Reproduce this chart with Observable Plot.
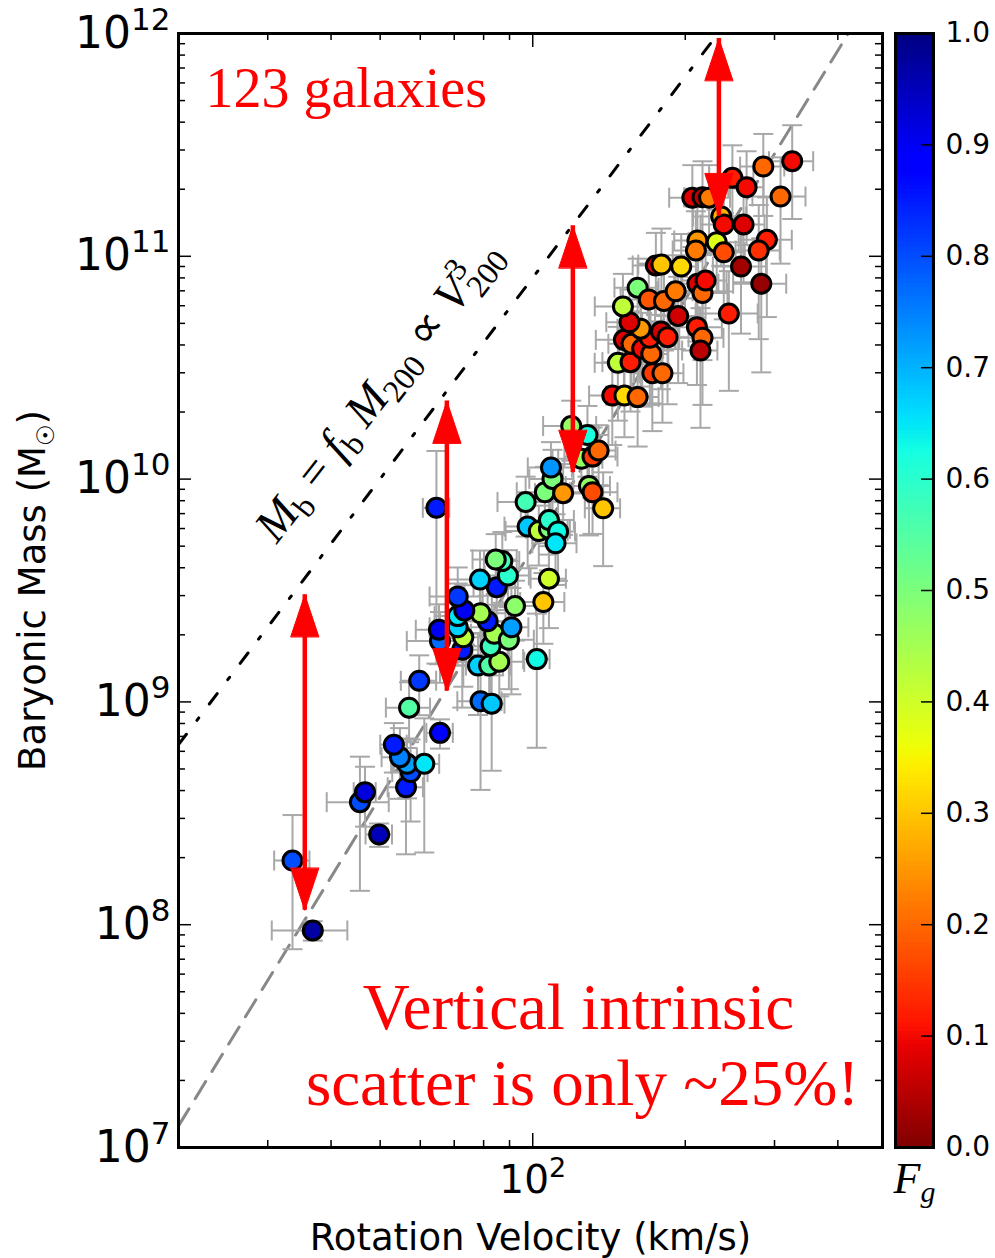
<!DOCTYPE html>
<html><head><meta charset="utf-8">
<script src="https://cdn.jsdelivr.net/npm/d3@7"></script>
<script src="https://cdn.jsdelivr.net/npm/@observablehq/plot@0.6"></script>
<style>
body{margin:0;background:#fff;}
#wrap{position:relative;width:995px;height:1258px;overflow:hidden;background:#fff;}
#main{position:absolute;left:0;top:0;}
#cbar{position:absolute;left:885px;top:0;}
</style></head><body><div id="wrap"><div id="main"></div><div id="cbar"></div></div>
<script>
// ---------- data ----------
// log10 of rotation velocity (km/s)
const logV = [1.566,1.526,1.697,1.659,1.669,1.750,1.759,1.752,1.738,1.786,1.726,1.817,1.756,1.776,1.897,1.919,2.008,
1.892,1.914,1.934,1.861,1.817,1.815,1.863,1.852,1.917,1.924,1.953,1.958,1.911,1.897,1.852,1.865,1.852,1.965,2.021,2.032,
1.929,1.896,1.951,1.940,1.927,1.810,1.986,1.990,2.012,2.032,2.032,2.050,2.045,2.024,2.039,2.036,2.060,2.111,2.118,2.139,
2.096,2.118,2.130,2.108,2.076,2.157,2.181,2.207,2.168,2.193,2.236,2.256,2.180,2.195,2.216,2.234,2.231,2.213,2.191,2.253,
2.266,2.178,2.207,2.229,2.259,2.282,2.287,2.324,2.335,2.331,2.387,2.325,2.335,2.243,2.254,2.293,2.411,2.451,2.325,2.322,
2.363,2.377,2.416,2.372,2.377,2.462,2.446,2.315,2.335,2.348,2.489,2.394,2.422,2.455,2.512,2.341];
// log10 of baryonic mass (Msun)
const logMb = [7.974,8.288,8.405,8.550,8.595,8.617,8.685,8.722,8.752,8.722,8.808,8.861,8.974,9.095,9.003,8.992,9.192,
9.163,9.163,9.180,9.234,9.273,9.324,9.290,9.335,9.250,9.306,9.279,9.335,9.362,9.398,9.385,9.410,9.473,9.430,9.448,9.553,
9.515,9.549,9.567,9.632,9.639,9.871,9.897,9.787,9.767,9.777,9.816,9.765,9.712,9.941,10.001,10.052,9.937,9.969,9.941,9.869,
10.091,10.101,10.128,10.198,10.238,10.375,10.375,10.368,10.522,10.525,10.475,10.475,10.625,10.607,10.585,10.562,10.634,10.675,10.704,10.663,
10.637,10.775,10.859,10.806,10.799,10.843,10.732,10.682,10.634,10.577,10.743,10.877,10.835,10.959,10.963,10.954,10.954,10.877,11.071,11.026,
11.063,11.018,11.143,11.179,11.143,11.074,11.026,11.263,11.265,11.263,11.268,11.352,11.310,11.403,11.427,10.891];
// gas fraction F_g
const Fg = [0.97,0.80,0.95,0.80,0.92,0.85,0.80,0.72,0.75,0.65,0.85,0.88,0.55,0.82,0.77,0.68,0.63,
0.67,0.55,0.45,0.85,0.77,0.90,0.42,0.67,0.58,0.45,0.50,0.72,0.85,0.45,0.65,0.90,0.82,0.48,0.30,0.40,
0.85,0.67,0.60,0.57,0.50,0.85,0.57,0.68,0.42,0.50,0.60,0.63,0.65,0.50,0.50,0.73,0.25,0.47,0.17,0.30,
0.47,0.15,0.20,0.62,0.47,0.10,0.32,0.20,0.42,0.12,0.15,0.20,0.08,0.20,0.10,0.20,0.12,0.25,0.08,0.07,
0.12,0.42,0.50,0.18,0.20,0.22,0.07,0.12,0.20,0.05,0.12,0.08,0.20,0.08,0.30,0.32,0.03,0.02,0.25,0.22,
0.38,0.17,0.08,0.28,0.10,0.12,0.14,0.08,0.05,0.22,0.20,0.12,0.10,0.20,0.10,0.10];
// fractional 1-sigma errors
const errV = [.17,.08,.06,.14,.05,.08,.08,.07,.08,.07,.06,.06,.10,.08,.10,.06,.06,
.12,.10,.12,.10,.14,.10,.10,.12,.08,.10,.12,.08,.10,.12,.10,.08,.12,.10,.10,.08,
.10,.14,.10,.08,.10,.06,.12,.10,.14,.10,.12,.08,.10,.12,.10,.10,.12,.10,.12,.08,
.10,.12,.08,.10,.12,.10,.08,.10,.10,.12,.08,.10,.12,.10,.10,.08,.12,.10,.10,.08,
.10,.12,.10,.12,.10,.08,.10,.12,.10,.08,.14,.10,.12,.10,.10,.08,.12,.12,.10,.10,
.12,.10,.10,.12,.10,.12,.10,.10,.08,.10,.12,.10,.08,.10,.10,.10];
const errM = [.10,.60,.12,.60,.30,.50,.40,.30,.35,.60,.25,.15,.30,.30,.60,.50,.60,
.40,.35,.30,.45,.35,.30,.40,.30,.45,.35,.40,.50,.30,.35,.40,.30,.35,.30,.35,.40,
.30,.35,.30,.35,.30,.80,.30,.35,.30,.35,.30,.40,.35,.30,.35,.30,.35,.40,.35,.45,
.30,.35,.30,.35,.30,.40,.35,.40,.45,.40,.45,.40,.45,.40,.45,.40,.50,.45,.40,.45,
.50,.40,.35,.45,.40,.45,.50,.45,.50,.55,.55,.45,.50,.40,.45,.40,.50,.60,.45,.50,
.40,.50,.45,.40,.50,.55,.60,.40,.45,.40,.50,.40,.45,.40,.45,.45];

// reference relations (end points)
const dashedV = [20, 490];           // observed relation, M ~ V^3.7
const dashedM = [1.25e7, 1.78e12];
const dottedV = [20, 490];           // Mb = fb M200 ~ V^3
const dottedM = [6.43e8, 9.4e12];

// red arrows
const arrowV = [35.5, 67.7, 120, 233];
const arrowTop = [3.03e9, 2.24e10, 1.37e11, 9.5e11];
const arrowBot = [1.16e8, 1.12e9, 1.07e10, 1.52e11];

// ticks
const xMinor = [30, 40, 50, 60, 70, 80, 90, 200, 300, 400];
const xMajor = [100];
const xLabels = [100];
const yDecades = [1e7, 1e8, 1e9, 1e10, 1e11];
const yMult = [2, 3, 4, 5, 6, 7, 8, 9];
const yMajor = [1e8, 1e9, 1e10, 1e11];
const yLabels = [1e7, 1e8, 1e9, 1e10, 1e11, 1e12];
const cbTicks = [0, 0.1, 0.2, 0.3, 0.4, 0.5, 0.6, 0.7, 0.8, 0.9, 1.0];
const cbInner = [0.1, 0.2, 0.3, 0.4, 0.5, 0.6, 0.7, 0.8, 0.9];

// ---------- jet colormap (Fg = 1 -> dark blue, Fg = 0 -> dark red) ----------
const jetR = [[0,0],[0.35,0],[0.66,1],[0.89,1],[1,0.5]];
const jetG = [[0,0],[0.125,0],[0.375,1],[0.64,1],[0.91,0],[1,0]];
const jetB = [[0,0.5],[0.11,1],[0.34,1],[0.65,0],[1,0]];
function pw(st, t){ for(let i=1;i<st.length;i++){ if(t<=st[i][0]){ const [a,va]=st[i-1],[b,vb]=st[i]; return va+(vb-va)*(t-a)/(b-a);} } return st[st.length-1][1]; }
function jet(t){ return d3.rgb(255*pw(jetR,t),255*pw(jetG,t),255*pw(jetB,t)).formatHex(); }
const jetBreaks = [0,0.11,0.125,0.34,0.35,0.375,0.64,0.65,0.66,0.89,0.91,1];
const colorOpts = {type: "linear", domain: jetBreaks.map(t => 1 - t).reverse(), range: jetBreaks.map(jet).reverse(), interpolate: "rgb", clamp: true};

// ---------- tables ----------
const rows = logV.map((lv, i) => ({V: 10 ** lv, M: 10 ** logMb[i], Fg: Fg[i], eV: errV[i], eM: errM[i]}));
const dashed = dashedV.map((v, i) => ({V: v, M: dashedM[i]}));
const dotted = dottedV.map((v, i) => ({V: v, M: dottedM[i]}));
const arrows = arrowV.map((v, i) => ({V: v, top: arrowTop[i], bot: arrowBot[i]}));
const yMinor = yDecades.flatMap(d => yMult.map(m => m * d));

const W = 704, H = 1114;
const vbar = {draw(ctx, size){ const r = Math.sqrt(size / Math.PI); ctx.moveTo(0, -r); ctx.lineTo(0, r); }};
const hbar = {draw(ctx, size){ const r = Math.sqrt(size / Math.PI); ctx.moveTo(-r, 0); ctx.lineTo(r, 0); }};
const tri = {draw(ctx, l, r){ ctx.moveTo(-r, 0); ctx.lineTo(0, -l); ctx.lineTo(r, 0); ctx.closePath(); }};
const hasShapes = typeof Plot.spike === "function";
const GREY = "#a8a8a8";
const SANS = "DejaVu Sans";
const SERIF = "Liberation Serif";

const marks = [
  Plot.line(dashed, {x: "V", y: "M", stroke: "#888888", strokeWidth: 3, strokeDasharray: "20,12", clip: true}),
  Plot.line(dotted, {x: "V", y: "M", stroke: "black", strokeWidth: 3, strokeDasharray: "13,17.5,3,17.5", clip: true}),
  Plot.ruleY(rows, {y: "M", x1: d => d.V * (1 - d.eV), x2: d => d.V * (1 + d.eV), stroke: GREY, strokeWidth: 2}),
  Plot.ruleX(rows, {x: "V", y1: d => d.M * (1 - d.eM), y2: d => d.M * (1 + d.eM), stroke: GREY, strokeWidth: 2}),
  Plot.dot(rows, {x: d => d.V * (1 - d.eV), y: "M", symbol: vbar, r: 10, stroke: GREY, fill: "none", strokeWidth: 2}),
  Plot.dot(rows, {x: d => d.V * (1 + d.eV), y: "M", symbol: vbar, r: 10, stroke: GREY, fill: "none", strokeWidth: 2}),
  Plot.dot(rows, {x: "V", y: d => d.M * (1 - d.eM), symbol: hbar, r: 10, stroke: GREY, fill: "none", strokeWidth: 2}),
  Plot.dot(rows, {x: "V", y: d => d.M * (1 + d.eM), symbol: hbar, r: 10, stroke: GREY, fill: "none", strokeWidth: 2}),
  Plot.dot(rows, {x: "V", y: "M", fill: "Fg", r: 9.5, stroke: "black", strokeWidth: 3}),
  Plot.ruleX(arrows, {x: "V", y1: "bot", y2: "top", stroke: "#ff0000", strokeWidth: 4.5})
];
if (hasShapes) {
  marks.push(Plot.vector(arrows, {x: "V", y: "top", length: 42, r: 14, rotate: 0, anchor: "end", shape: tri, fill: "#ff0000", stroke: "#ff0000", strokeWidth: 1}));
  marks.push(Plot.vector(arrows, {x: "V", y: "bot", length: 42, r: 14, rotate: 180, anchor: "end", shape: tri, fill: "#ff0000", stroke: "#ff0000", strokeWidth: 1}));
}
marks.push(
  // inward ticks on all four sides
  Plot.tickY(yMinor, {y: d => d, insetRight: W - 7, stroke: "black", strokeWidth: 1.5}),
  Plot.tickY(yMinor, {y: d => d, insetLeft: W - 7, stroke: "black", strokeWidth: 1.5}),
  Plot.tickY(yMajor, {y: d => d, insetRight: W - 13, stroke: "black", strokeWidth: 1.5}),
  Plot.tickY(yMajor, {y: d => d, insetLeft: W - 13, stroke: "black", strokeWidth: 1.5}),
  Plot.tickX(xMinor, {x: d => d, insetTop: H - 7, stroke: "black", strokeWidth: 1.5}),
  Plot.tickX(xMinor, {x: d => d, insetBottom: H - 7, stroke: "black", strokeWidth: 1.5}),
  Plot.tickX(xMajor, {x: d => d, insetTop: H - 14, stroke: "black", strokeWidth: 1.5}),
  Plot.tickX(xMajor, {x: d => d, insetBottom: H - 14, stroke: "black", strokeWidth: 1.5}),
  Plot.frame({stroke: "black", strokeWidth: 3}),
  // tick labels
  Plot.text(yLabels, {y: d => d, frameAnchor: "left", dx: -8, textAnchor: "end", text: d => "10^" + Math.round(Math.log10(d)), fontSize: 44, fontFamily: SANS, fill: "black"}),
  Plot.text(xLabels, {x: d => d, frameAnchor: "bottom", dy: 45, textAnchor: "middle", text: d => "10^" + Math.round(Math.log10(d)), fontSize: 39, fontFamily: SANS, fill: "black"}),
  // axis titles
  Plot.text(["Rotation Velocity (km/s)"], {frameAnchor: "bottom", dy: 102, textAnchor: "middle", text: d => d, fontSize: 37, fontFamily: SANS, fill: "black"}),
  Plot.text(["YLABEL"], {frameAnchor: "left", dx: -145, rotate: -90, textAnchor: "middle", text: d => d, fontSize: 37, fontFamily: SANS, fill: "black"}),
  // annotations
  Plot.text(["123 galaxies"], {frameAnchor: "top-left", dx: 27, dy: 34, textAnchor: "start", text: d => d, fontSize: 56, fontFamily: SERIF, fill: "#ff0000"}),
  Plot.text(["Vertical intrinsic"], {frameAnchor: "bottom", dx: 48, dy: -119, textAnchor: "middle", text: d => d, fontSize: 65, fontFamily: SERIF, fill: "#ff0000"}),
  Plot.text(["scatter is only ~25%!"], {frameAnchor: "bottom", dx: 52, dy: -43, textAnchor: "middle", text: d => d, fontSize: 65, fontFamily: SERIF, fill: "#ff0000"}),
  Plot.text([{V: 29.6, M: 5.6e9}], {x: "V", y: "M", rotate: -52, textAnchor: "start", text: d => "MATHLABEL", fontSize: 47, fontFamily: SERIF, fill: "black"})
);

const plot = Plot.plot({
  width: 885, height: 1258,
  marginLeft: 178, marginRight: 3, marginTop: 33, marginBottom: 111,
  style: {fontFamily: SANS, background: "white", overflow: "visible"},
  x: {type: "log", domain: [20, 490], axis: null},
  y: {type: "log", domain: [1e7, 1e12], axis: null},
  color: colorOpts,
  marks
});
document.getElementById("main").appendChild(plot);

// fallback arrow heads for older Plot builds, placed through the plot's own scales
if (!hasShapes) {
  const sx = plot.scale("x"), sy = plot.scale("y");
  const g = d3.select(plot).append("g").attr("fill", "#ff0000");
  arrows.forEach(a => {
    const x = sx.apply(a.V), yt = sy.apply(a.top), yb = sy.apply(a.bot);
    g.append("path").attr("d", `M${x},${yt}L${x-14},${yt+42}L${x+14},${yt+42}Z`);
    g.append("path").attr("d", `M${x},${yb}L${x-14},${yb-42}L${x+14},${yb-42}Z`);
  });
}

// rich text helpers
function rich(el, parts) {
  const t = d3.select(el);
  t.text(null);
  parts.forEach(p => {
    const s = t.append("tspan").text(p.t);
    if (p.fs) s.attr("font-size", p.fs);
    if (p.it) s.attr("font-style", "italic");
    if (p.dy) s.attr("dy", p.dy);
    if (p.dx) s.attr("dx", p.dx);
  });
}
function fixTexts(svg) {
  d3.select(svg).selectAll("text").each(function() {
    const s = this.textContent;
    const m = /^10\^(\d+)$/.exec(s);
    if (m) {
      const big = +this.getAttribute("font-size") > 40 || this.closest("g")?.getAttribute("font-size") > 40;
      rich(this, [{t: "10"}, {t: m[1], fs: big ? 31 : 27, dy: big ? -18 : -16}]);
      return;
    }
    if (s === "YLABEL") { rich(this, [{t: "Baryonic Mass (M"}, {t: "\u2609", fs: 24, dy: 9}, {t: ")", dy: -9}]); return; }
    if (s === "MATHLABEL") {
      rich(this, [
        {t: "M", it: true}, {t: "b", fs: 32, dy: 9}, {t: " = ", dy: -9},
        {t: "f", it: true}, {t: "b", fs: 32, dy: 9}, {t: " M", it: true, dy: -9}, {t: "200", fs: 32, dy: 9},
        {t: " \u221D ", dy: -9}, {t: "V", it: true}, {t: "3", fs: 32, dy: -18}, {t: "200", fs: 32, dy: 28, dx: -16}
      ]);
      return;
    }
    if (s === "FG") { rich(this, [{t: "F", it: true}, {t: "g", it: true, fs: 30, dy: 9}]); return; }
  });
}
fixTexts(plot);

// ---------- colour bar ----------
const cbSteps = d3.range(0, 1, 0.004);
const cb = Plot.plot({
  width: 110, height: 1258,
  marginLeft: 10, marginRight: 62, marginTop: 33, marginBottom: 111,
  style: {fontFamily: SANS, background: "white", overflow: "visible"},
  x: {domain: [0, 1], axis: null},
  y: {domain: [0, 1], axis: null},
  color: colorOpts,
  marks: [
    Plot.rect(cbSteps, {x1: d => 0, x2: d => 1, y1: d => d, y2: d => Math.min(1, d + 0.0055), fill: d => d + 0.002}),
    Plot.tickY(cbInner, {y: d => d, insetLeft: 38 - 12, stroke: "black", strokeWidth: 1.5}),
    Plot.frame({stroke: "black", strokeWidth: 3}),
    Plot.text(cbTicks, {y: d => d, frameAnchor: "right", dx: 12, textAnchor: "start", text: d => d3.format(".1f")(d), fontSize: 28, fontFamily: SANS, fill: "black"}),
    Plot.text(["FG"], {frameAnchor: "bottom", dy: 45, textAnchor: "middle", text: d => d, fontSize: 44, fontFamily: SERIF, fill: "black"})
  ]
});
document.getElementById("cbar").appendChild(cb);
fixTexts(cb);
</script>
</body></html>
